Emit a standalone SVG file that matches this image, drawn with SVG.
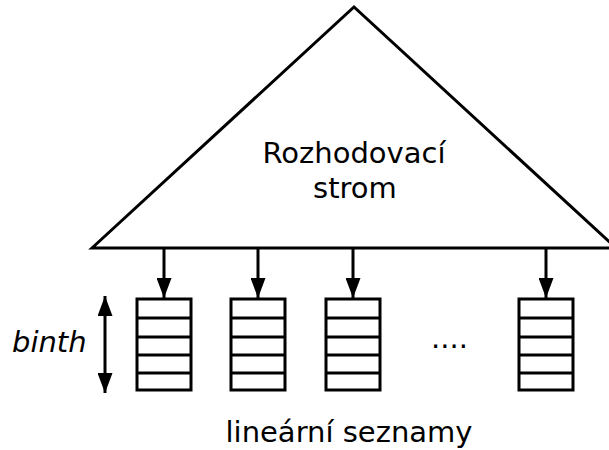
<svg xmlns="http://www.w3.org/2000/svg" width="609" height="450" viewBox="0 0 609 450">
<defs>
<style>
.ln{fill:none;stroke:#000;stroke-width:3}
.bx{fill:#fff;stroke:#000;stroke-width:3}
.t{font-family:"DejaVu Sans",sans-serif;font-size:29px;fill:#000}
</style>
<marker id="arr" viewBox="0 0 20 15" refX="20" refY="7.5" markerWidth="20" markerHeight="15" markerUnits="userSpaceOnUse" orient="auto-start-reverse">
<path d="M0,0 L20,7.5 L0,15 Z" fill="#000"/>
</marker>
<g id="list">
<rect class="bx" x="0" y="0" width="54" height="91"/>
<path class="ln" d="M0,19 H54 M0,38 H54 M0,56 H54 M0,74 H54"/>
</g>
</defs>
<g id="tree">
<polygon class="bx" points="92,248 354,7 616,248"/>
<text class="t" x="354" y="163" text-anchor="middle">Rozhodovací</text>
<text class="t" x="355" y="198" text-anchor="middle">strom</text>
</g>
<g id="connectors">
<line class="ln" x1="164" y1="248" x2="164" y2="298" marker-end="url(#arr)"/>
<line class="ln" x1="258" y1="248" x2="258" y2="298" marker-end="url(#arr)"/>
<line class="ln" x1="353" y1="248" x2="353" y2="298" marker-end="url(#arr)"/>
<line class="ln" x1="546" y1="248" x2="546" y2="298" marker-end="url(#arr)"/>
<line class="ln" x1="105" y1="296" x2="105" y2="393" marker-start="url(#arr)" marker-end="url(#arr)"/>
</g>
<g id="list1"><use href="#list" x="137" y="299"/></g>
<g id="list2"><use href="#list" x="231" y="299"/></g>
<g id="list3"><use href="#list" x="326" y="299"/></g>
<g id="list4"><use href="#list" x="519" y="299"/></g>
<g id="labels">
<text class="t" x="12" y="352" font-style="italic">binth</text>
<text class="t" x="431" y="348">....</text>
<text class="t" x="349" y="442" text-anchor="middle">lineární seznamy</text>
</g>
</svg>
